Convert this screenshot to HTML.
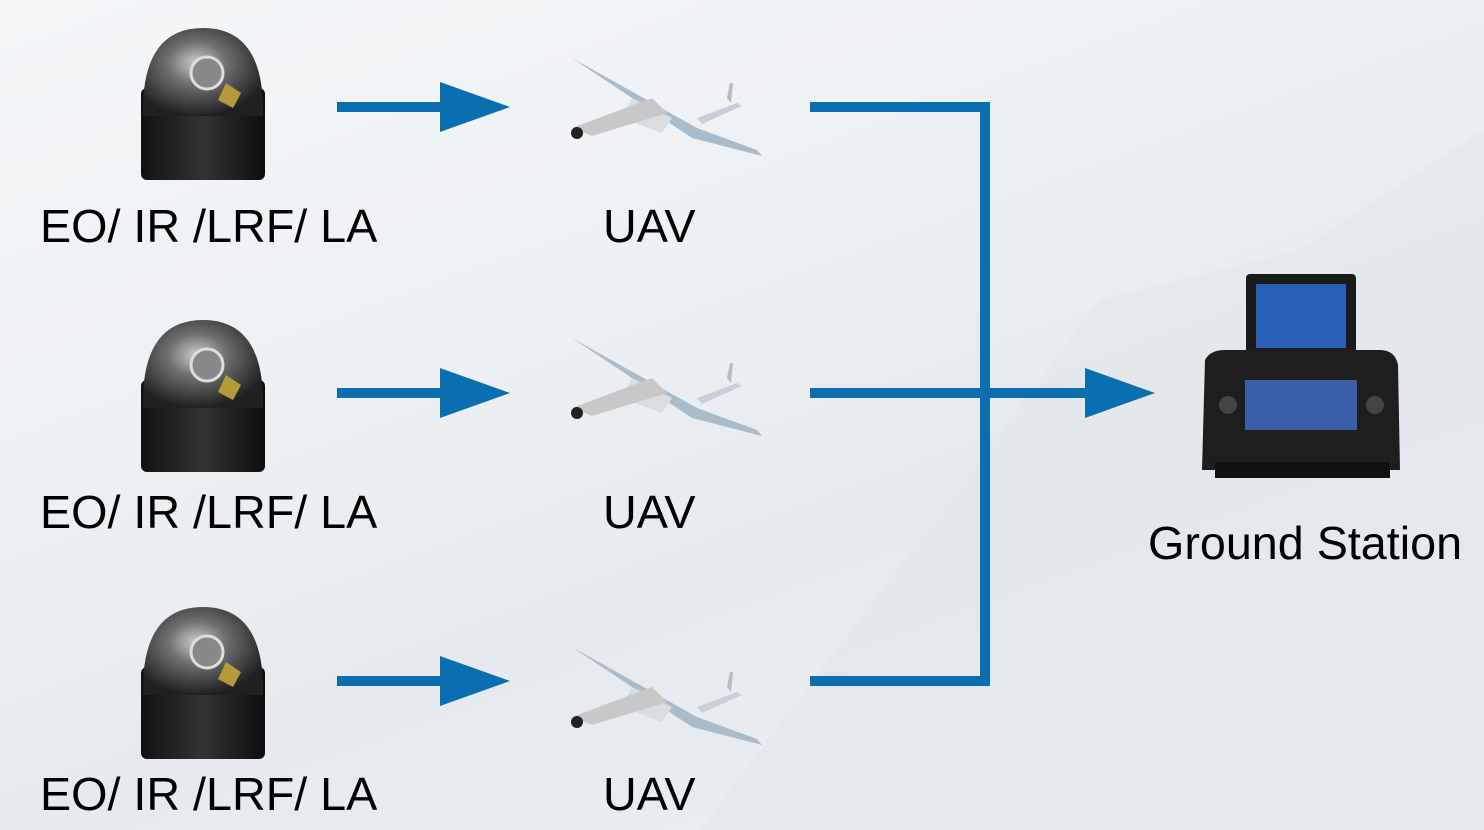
<!DOCTYPE html>
<html><head><meta charset="utf-8"><style>
html,body{margin:0;padding:0}
body{width:1484px;height:830px;overflow:hidden;position:relative;
background:linear-gradient(160deg,#f4f6f8 0%,#eef1f4 35%,#e6eaee 60%,#eceff2 100%);
font-family:"Liberation Sans",sans-serif;}
.lbl{position:absolute;font-size:46.7px;color:#000;white-space:nowrap;line-height:1}
</style></head><body>
<svg width="1484" height="830" style="position:absolute;left:0;top:0">
<defs>
<radialGradient id="dome" cx="45%" cy="40%" r="60%">
<stop offset="0" stop-color="#cfcfcf"/><stop offset=".4" stop-color="#707070"/><stop offset="1" stop-color="#202020"/>
</radialGradient>
<linearGradient id="body" x1="0" x2="1"><stop offset="0" stop-color="#111"/><stop offset=".5" stop-color="#333"/><stop offset="1" stop-color="#0d0d0d"/></linearGradient>
<g id="camera">
<rect x="0" y="60" width="124" height="92" rx="6" fill="url(#body)"/>
<path d="M2 88 Q0 0 62 0 Q124 0 122 88 Z" fill="url(#dome)"/>
<circle cx="66" cy="45" r="16" fill="#888" stroke="#ddd" stroke-width="3"/>
<path d="M85 55 l15 10 l-8 15 l-15 -8z" fill="#b59a3a"/>
</g>
<g id="uav">
<path d="M0 0 L120 80 L190 98 L185 92 L125 70 Z" fill="#a9bccc"/>
<path d="M60 40 L100 60 L90 75 L50 60 Z" fill="#d8dde2"/>
<path d="M0 70 L80 40 L95 55 L20 78 Z" fill="#c8c8c8"/>
<circle cx="5" cy="75" r="6" fill="#222"/>
<path d="M125 60 l40 -15 l5 3 l-40 18z" fill="#c9cfd8"/>
<path d="M155 40 l3 -15 l3 0 l-2 20z" fill="#bbb"/>
</g>
<g id="arrow">
<rect x="0" y="-5" width="105" height="10" fill="#0a6fb0"/>
<path d="M103 -25 L173 0 L103 25 Z" fill="#0a6fb0"/>
</g>
</defs>
<path d="M700 830 L1100 300 L1300 250 L1484 130 L1484 830 Z" fill="#e2e6ea" opacity=".6"/>
<use href="#camera" x="141" y="28"/>
<use href="#camera" x="141" y="320"/>
<use href="#camera" x="141" y="607"/>
<use href="#uav" x="572" y="58"/>
<use href="#uav" x="572" y="338"/>
<use href="#uav" x="572" y="647"/>
<use href="#arrow" x="337" y="107"/>
<use href="#arrow" x="337" y="393"/>
<use href="#arrow" x="337" y="681"/>
<path d="M810 107 H985 V681 H810 M810 393 H1090" fill="none" stroke="#0a6fb0" stroke-width="10"/>
<path d="M1085 368 L1155 393 L1085 418 Z" fill="#0a6fb0"/>
<rect x="1246" y="274" width="110" height="86" rx="4" fill="#1a1a1a"/>
<rect x="1256" y="284" width="90" height="64" fill="#2a5fb8"/>
<path d="M1205 360 Q1210 350 1225 350 H1380 Q1395 350 1398 365 L1400 470 H1202 Z" fill="#1e1e1e"/>
<rect x="1245" y="380" width="112" height="50" fill="#3a5ea8"/>
<circle cx="1228" cy="405" r="9" fill="#444"/><circle cx="1375" cy="405" r="9" fill="#444"/>
<rect x="1215" y="462" width="175" height="16" fill="#111"/>
</svg>
<div class="lbl" style="left:40px;top:203px">EO/ IR /LRF/ LA</div>
<div class="lbl" style="left:40px;top:489px">EO/ IR /LRF/ LA</div>
<div class="lbl" style="left:40px;top:771px">EO/ IR /LRF/ LA</div>
<div class="lbl" style="left:603px;top:203px">UAV</div>
<div class="lbl" style="left:603px;top:489px">UAV</div>
<div class="lbl" style="left:603px;top:771px">UAV</div>
<div class="lbl" style="left:1148px;top:520px">Ground Station</div>
</body></html>
